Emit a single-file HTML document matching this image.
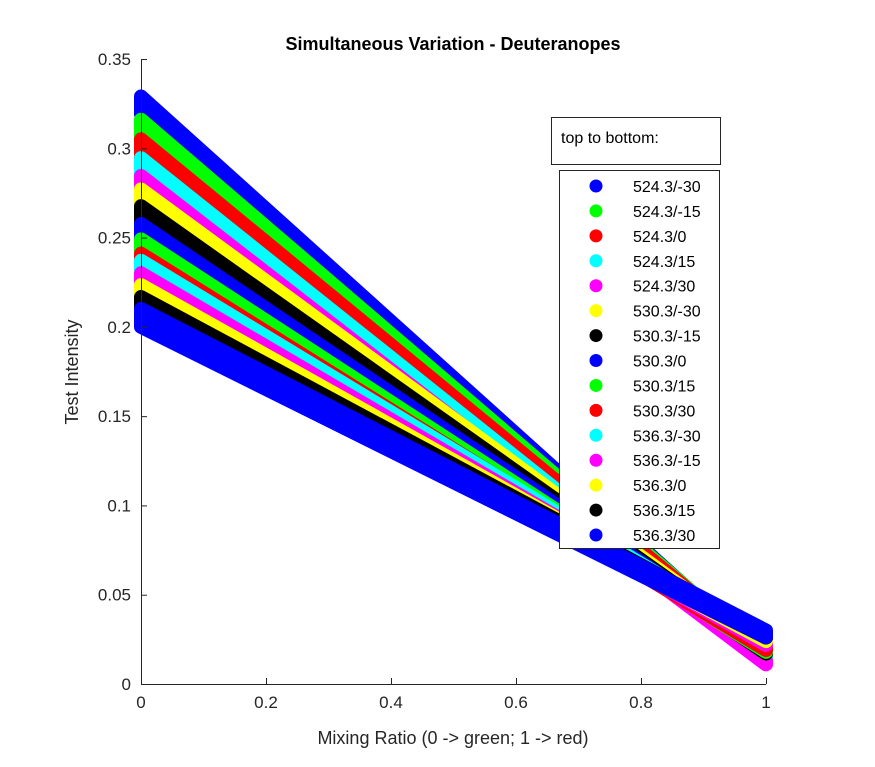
<!DOCTYPE html>
<html><head><meta charset="utf-8"><style>
body{margin:0;background:#fff}
svg{display:block;font-family:"Liberation Sans",sans-serif}
</style></head><body>
<svg id="chart" width="875" height="767" viewBox="0 0 875 767">
<g id="bands"></g>
<g id="axes"></g>
<text x="453" y="50" text-anchor="middle" font-size="18" font-weight="bold" fill="#000">Simultaneous Variation - Deuteranopes</text>
<text x="453" y="744" text-anchor="middle" font-size="18" fill="#262626">Mixing Ratio (0 -&gt; green; 1 -&gt; red)</text>
<text transform="translate(78,372) rotate(-90)" text-anchor="middle" font-size="18" fill="#262626">Test Intensity</text>
<g>
<rect x="551.5" y="117.5" width="169" height="47" fill="#fff" stroke="#262626" stroke-width="1"/>
<text x="561" y="143" font-size="16" fill="#000">top to bottom:</text>
</g>
<g id="legend">
<rect x="559.5" y="170.5" width="160" height="378" fill="#fff" stroke="#262626" stroke-width="1"/>
</g>
</svg>
<script>
const labels=["524.3/-30","524.3/-15","524.3/0","524.3/15","524.3/30","530.3/-30","530.3/-15","530.3/0","530.3/15","530.3/30","536.3/-30","536.3/-15","536.3/0","536.3/15","536.3/30"];
const colors=["#0000ff","#00ff00","#ff0000","#00ffff","#ff00ff","#ffff00","#000000","#0000ff","#00ff00","#ff0000","#00ffff","#ff00ff","#ffff00","#000000","#0000ff"];
const leftTop=[0.329,0.316,0.305,0.2945,0.2845,0.277,0.2676,0.2576,0.249,0.241,0.237,0.230,0.2234,0.2167,0.210];
const leftBottom=[0.319,0.306,0.295,0.2845,0.2745,0.267,0.2576,0.2476,0.239,0.231,0.227,0.220,0.2134,0.2067,0.200];
const rightTop=[0.014,0.016,0.017,0.015,0.013,0.020,0.020,0.021,0.021,0.022,0.025,0.025,0.027,0.029,0.030];
const rightBottom=[0.012,0.013,0.014,0.012,0.011,0.017,0.017,0.018,0.018,0.019,0.022,0.022,0.024,0.026,0.026];
const xTicks=[0,0.2,0.4,0.6,0.8,1];
const xTickLabels=["0","0.2","0.4","0.6","0.8","1"];
const yTicks=[0,0.05,0.1,0.15,0.2,0.25,0.3,0.35];
const yTickLabels=["0","0.05","0.1","0.15","0.2","0.25","0.3","0.35"];

const NS="http://www.w3.org/2000/svg";
const X0=141,X1=766,Y0=684,Y1=59,YMAX=0.35;
const sx=v=>X0+v*(X1-X0);
const sy=v=>Y0-v/YMAX*(Y0-Y1);
function mk(t,a,p){const e=document.createElementNS(NS,t);for(const k in a)e.setAttribute(k,a[k]);p.appendChild(e);return e;}

const bands=document.getElementById('bands');
for(let i=0;i<labels.length;i++){
  const pts=[[sx(0),sy(leftTop[i])],[sx(1),sy(rightTop[i])],[sx(1),sy(rightBottom[i])],[sx(0),sy(leftBottom[i])]];
  const p=mk('polygon',{points:pts.map(q=>q.join(',')).join(' '),fill:colors[i],stroke:colors[i],'stroke-width':14,'stroke-linejoin':'round'},bands);
  
  
}

const axes=document.getElementById('axes');
mk('line',{x1:X0,y1:Y0+0.5,x2:X1,y2:Y0+0.5,stroke:'#262626','stroke-width':1},axes);
mk('line',{x1:X0+0.5,y1:Y0,x2:X0+0.5,y2:Y1,stroke:'#262626','stroke-width':1},axes);
xTicks.forEach((v,i)=>{
  const x=sx(v)+0.5;
  mk('line',{x1:x,y1:Y0,x2:x,y2:Y0-6,stroke:'#262626'},axes);
  const t=mk('text',{x:sx(v),y:Y0+24,'text-anchor':'middle','font-size':17,fill:'#262626'},axes);
  t.textContent=xTickLabels[i];
  
  
});
yTicks.forEach((v,i)=>{
  const y=sy(v)+0.5;
  mk('line',{x1:X0,y1:y,x2:X0+6,y2:y,stroke:'#262626'},axes);
  const t=mk('text',{x:X0-10,y:sy(v)+6,'text-anchor':'end','font-size':17,fill:'#262626'},axes);
  t.textContent=yTickLabels[i];
  
  
});

const legend=document.getElementById('legend');
labels.forEach((l,i)=>{
  const y=186+i*24.93;
  const g=mk('g',{},legend);
  
  
  mk('circle',{cx:596,cy:y,r:6.5,fill:colors[i]},g);
  const t=mk('text',{x:633,y:y+6,'font-size':16,fill:'#000'},g);
  t.textContent=l;
});
</script>
</body></html>
